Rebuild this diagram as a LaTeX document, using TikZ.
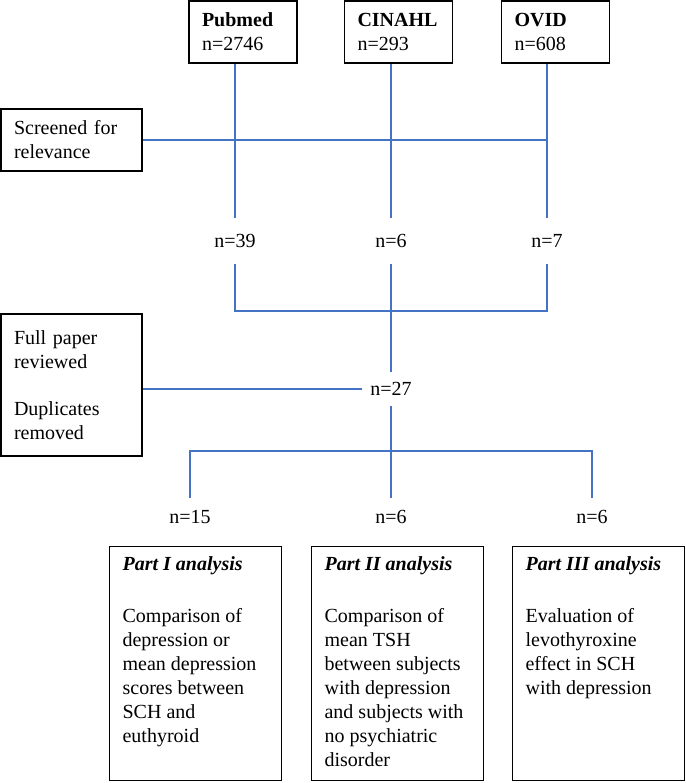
\documentclass[tikz,border=0pt]{standalone}
\usepackage{fontspec}
\setmainfont{Liberation Serif}
\usetikzlibrary{positioning}
\definecolor{linkblue}{RGB}{68,114,196}

\begin{document}
\begin{tikzpicture}[x=1pt, y=-1pt,
        every node/.style={font=\fontsize{20}{24}\selectfont},
        source/.style={rectangle, draw, line width=1.2pt, text width=82pt, inner xsep=13pt, inner ysep=0pt, minimum height=62pt, align=left},
        side/.style={rectangle, draw, line width=1.2pt, text width=115pt, inner xsep=13pt, inner ysep=0pt, align=left},
        count/.style={inner sep=0pt, minimum height=46pt},
        part/.style={rectangle, draw, line width=1.2pt, inner xsep=13pt, inner ysep=10pt, anchor=north west},
        line/.style={draw=linkblue, line width=1.4pt}]
        \useasboundingbox (0,0) rectangle (685,783);

        % Nodes
        \node [source] (pubmed) at (243,32) {\textbf{Pubmed}\\n=2746};
        \node [source] (cinahl) at (398.5,32) {\textbf{CINAHL}\\n=293};
        \node [source] (ovid) at (555.5,32) {\textbf{OVID}\\n=608};
        \node [side, minimum height=62pt] (screen) at (71.5,140) {Screened for\\relevance};
        \node [count] (n39) at (235,241) {n=39};
        \node [count] (n6a) at (391,241) {n=6};
        \node [count] (n7) at (547,241) {n=7};
        \node [side, minimum height=142pt] (review) at (71.5,385) {Full paper\\reviewed\\[23pt]Duplicates\\removed};
        \node [count, minimum height=34pt, inner xsep=8pt] (n27) at (391,389) {n=27};
        \node [count, minimum height=38pt] (n15) at (190,517) {n=15};
        \node [count, minimum height=38pt] (n6b) at (391,517) {n=6};
        \node [count, minimum height=38pt] (n6c) at (592,517) {n=6};
        \node [part] (part1) at (109,546) {\parbox[t][214pt][t]{146pt}{\textbf{\textit{Part I analysis}}\\[28pt]Comparison of\\depression or\\mean depression\\scores between\\SCH and\\euthyroid}};
        \node [part] (part2) at (311,546) {\parbox[t][214pt][t]{146pt}{\textbf{\textit{Part II analysis}}\\[28pt]Comparison of\\mean TSH\\between subjects\\with depression\\and subjects with\\no psychiatric\\disorder}};
        \node [part] (part3) at (512,546) {\parbox[t][214pt][t]{146pt}{\textbf{\textit{Part III analysis}}\\[28pt]Evaluation of\\levothyroxine\\effect in SCH\\with depression}};
        \coordinate (merge) at (391,311);
        \coordinate (split) at (391,451);

        % Lines
        \path [line] (n39.north |- pubmed.south) -- (n39.north);
        \path [line] (n6a.north |- cinahl.south) -- (n6a.north);
        \path [line] (n7.north |- ovid.south) -- (n7.north);
        \path [line] (screen.east) -- (screen.east -| n7.north);
        \path [line] (n39.south) |- (merge) -| (n7.south);
        \path [line] (n6a.south) -- (n27.north);
        \path [line] (review.east |- n27.west) -- (n27.west);
        \path [line] (n27.south) -- (n6b.north);
        \path [line] (n15.north) |- (split) -| (n6c.north);
    \end{tikzpicture}
\end{document}
